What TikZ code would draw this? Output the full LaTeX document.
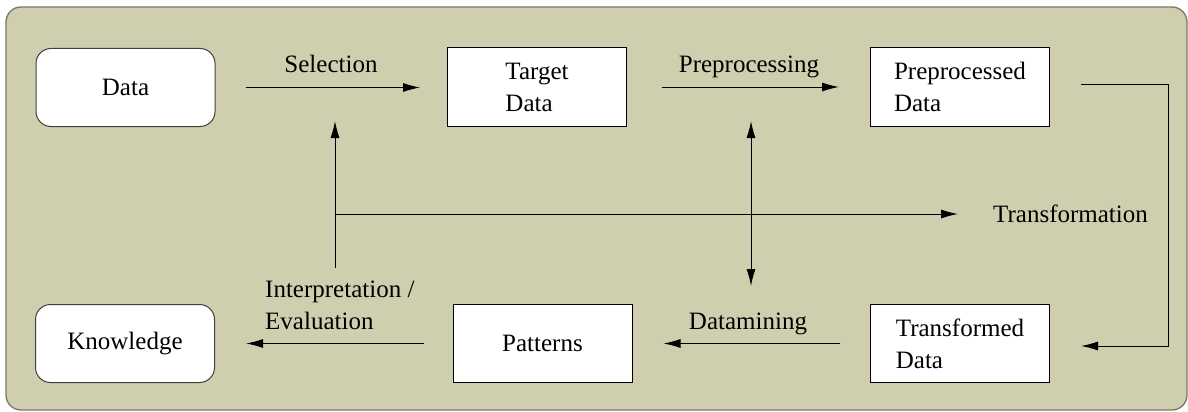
\documentclass[tikz,border=0pt]{standalone}
\usepackage{fontspec}
\setmainfont{Liberation Serif}
\usetikzlibrary{arrows.meta,calc}
\definecolor{bgfill}{RGB}{207,207,175}
\definecolor{bgline}{RGB}{120,120,105}
\begin{document}
\begin{tikzpicture}[x=1pt,y=-1pt,
  every node/.style={font=\fontsize{25}{32}\selectfont, inner sep=0pt},
  box/.style={draw=black, fill=white, line width=1pt, minimum width=179pt, minimum height=78pt, align=left},
  rbox/.style={box, draw=black!75, rounded corners=15pt},
  conn/.style={line width=1pt, -{Latex[length=17pt,width=9pt]}},
  dconn/.style={line width=1pt, {Latex[length=17pt,width=9pt]}-{Latex[length=17pt,width=9pt]}}]
\useasboundingbox (0,0) rectangle (1188,412);
\draw[fill=bgfill, draw=bgline, line width=1.3pt, rounded corners=15pt] (6,7) rectangle (1187,410);

% boxes
\node[rbox] (data) at (125.5,87.5) {Data};
\node[box] (target) at (537,87) {Target\\Data};
\node[box] (pre) at (960,87) {Preprocessed\\Data};
\node[rbox] (know) at (125,343.5) {Knowledge};
\node[box] (pat) at (542.5,343.5) {Patterns};
\node[box] (trans) at (960,343.5) {Transformed\\Data};

% labels
\node[anchor=base] (lsel) at (331,72) {Selection};
\node[anchor=base] (lpre) at (749,73) {Preprocessing};
\node[anchor=base west] (ltra) at (993,222) {Transformation};
\node[anchor=base] (ldm) at (748,329) {Datamining};
\node[anchor=north west, align=left] (lint) at (265,281) {Interpretation /\\Evaluation};

% coordinates
\coordinate (tr1) at (1168,84);
\coordinate (tr2) at (1168,346);
\coordinate (vb) at (335,268);
\coordinate (vt) at (335,121);
\coordinate (vj) at (335,214);
\coordinate (dt) at (751,121);
\coordinate (db) at (751,286);

% connectors
\draw[conn, shorten <=30pt, shorten >=27pt] (data.east) -- (data.east -| target.west);
\draw[conn, shorten <=35pt, shorten >=31pt] (target.east) -- (pre.west);
\draw[conn] ($(pre.east)+(31,-3)$) -- (tr1) -- (tr2) -- ($(trans.east)+(31,2.5)$);
\draw[conn, shorten <=30pt, shorten >=31pt] (trans.west) -- (trans.west -| pat.east);
\draw[conn, shorten <=29pt, shorten >=31pt] (pat.west) -- (pat.west -| know.east);
\draw[conn] (vb) -- (vt);
\draw[conn, shorten >=35pt] (vj) -- (vj -| ltra.west);
\draw[dconn] (dt) -- (db);
\end{tikzpicture}
\end{document}
